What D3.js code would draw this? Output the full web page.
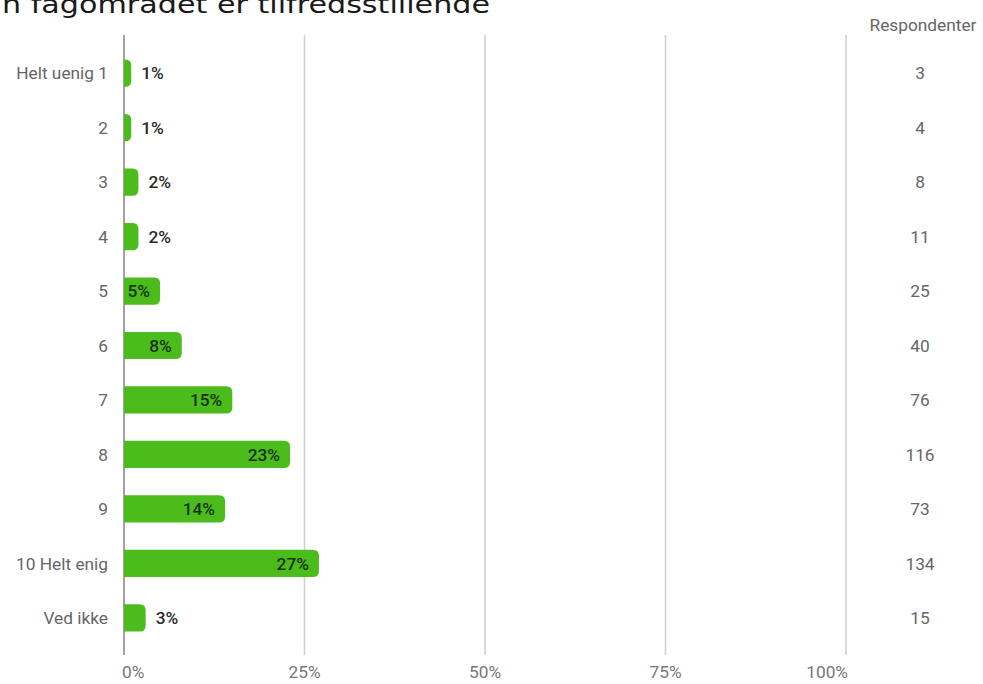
<!DOCTYPE html>
<html><head><meta charset="utf-8">
<script src="https://cdn.jsdelivr.net/npm/d3@7"></script>
<style>body{margin:0;background:#fff;}svg{display:block;}</style>
</head><body>
<svg id="c" width="983" height="684"></svg>
<script>
const titleText = "n fagområdet er tilfredsstillende";
const categories = ["Helt uenig 1","2","3","4","5","6","7","8","9","10 Helt enig","Ved ikke"];
const percents = [1,1,2,2,5,8,15,23,14,27,3];
const respondents = [3,4,8,11,25,40,76,116,73,134,15];
const ticks = [0,25,50,75,100];
const respHeader = "Respondenter";

const svg = d3.select("#c");
const font = "Roboto, 'Noto Sans', sans-serif";
const fs = 17.3;
const x = d3.scaleLinear().domain([0,100]).range([124,846]);
const y = d3.scaleBand().domain(categories).range([46,645]).paddingInner(0.5).paddingOuter(0.25);

svg.append("text").attr("x",2).attr("y",13).attr("font-family","'DejaVu Sans', Verdana, sans-serif")
  .attr("font-size",25).attr("fill","#1a1a1a")
  .attr("textLength",488).attr("lengthAdjust","spacingAndGlyphs").text(titleText);

// gridlines
svg.append("g").selectAll("line").data(ticks).join("line")
  .attr("x1",d=>x(d)).attr("x2",d=>x(d)).attr("y1",35).attr("y2",655)
  .attr("stroke",d=>d===0?"#8a8a8a":"#d0d0d0").attr("stroke-width",1.6);

// tick labels
const lastTick = ticks[ticks.length-1];
svg.append("g").selectAll("text").data(ticks).join("text")
  .attr("x",d=> d===0 ? x(d)-2 : d===lastTick ? x(d)+2 : x(d)).attr("y",678)
  .attr("text-anchor",d=> d===0 ? "start" : d===lastTick ? "end" : "middle")
  .attr("font-family",font).attr("font-size",fs).attr("fill","#777").text(d=>d+"%");

const bh = y.bandwidth();
const r = 6;
function barPath(d){
  const x0 = x(0), x1 = x(d.p), y0 = y(d.c), y1 = y0+bh;
  const rr = Math.min(r, (x1-x0));
  return `M${x0},${y0}H${x1-rr}Q${x1},${y0} ${x1},${y0+rr}V${y1-rr}Q${x1},${y1} ${x1-rr},${y1}H${x0}Z`;
}
const data = categories.map((c,i)=>({c,p:percents[i],n:respondents[i]}));

svg.append("g").selectAll("path").data(data).join("path")
  .attr("d",barPath).attr("fill","#4cbc1d");

// category labels
svg.append("g").selectAll("text").data(data).join("text")
  .attr("x",108).attr("y",d=>y(d.c)+bh/2).attr("dy","0.36em").attr("text-anchor","end")
  .attr("font-family",font).attr("font-size",fs).attr("fill","#666").text(d=>d.c);

// value labels
svg.append("g").selectAll("text").data(data).join("text")
  .attr("x",d=> d.p>=5 ? x(d.p)-10 : x(d.p)+10)
  .attr("y",d=>y(d.c)+bh/2).attr("dy","0.36em")
  .attr("text-anchor",d=> d.p>=5 ? "end":"start")
  .attr("font-family",font).attr("font-size",fs).attr("font-weight",500)
  .attr("fill",d=> d.p>=5 ? "#17330b" : "#2a2a2a").text(d=>d.p+"%");

// respondents
svg.append("text").attr("x",923).attr("y",31).attr("text-anchor","middle")
  .attr("font-family",font).attr("font-size",fs).attr("fill","#666").text(respHeader);
svg.append("g").selectAll("text").data(data).join("text")
  .attr("x",920).attr("y",d=>y(d.c)+bh/2).attr("dy","0.36em").attr("text-anchor","middle")
  .attr("font-family",font).attr("font-size",fs).attr("fill","#666").text(d=>d.n);
</script>
</body></html>
